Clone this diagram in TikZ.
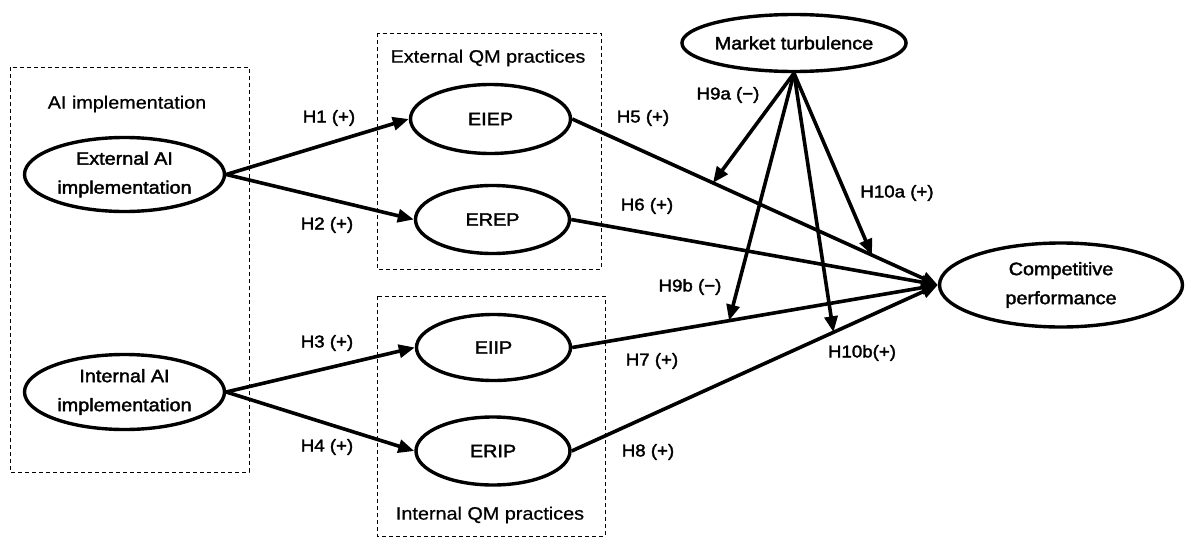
\documentclass[tikz,border=0pt]{standalone}
\usepackage{fontspec}
\setmainfont{Liberation Sans}[FakeStretch=1.1,FakeBold=0.6]
\newfontfamily\nodefont{Liberation Sans}[FakeStretch=1.1,FakeBold=2]
\usetikzlibrary{shapes.geometric,arrows.meta}

\tikzset{
  construct/.style={draw, ellipse, line width=3.4pt, inner sep=0pt, align=center,
    font=\nodefont\fontsize{18}{29}\selectfont},
  hyp/.style={-{Triangle[length=16pt,width=13pt]}, line width=3.6pt},
  group/.style={draw, line width=1pt, dash pattern=on 4pt off 3pt},
  grouptitle/.style={font=\fontsize{18}{22}\selectfont},
  hlabel/.style={font=\nodefont\fontsize{17}{20}\selectfont}
}

\begin{document}
\begin{tikzpicture}[x=1pt,y=-1pt]
\useasboundingbox (0,0) rectangle (1191,546);
% dashed groups
\draw[group] (10,67) rectangle (249,472);
\draw[group] (377,33) rectangle (601,269);
\draw[group] (377,296) rectangle (605,536);
\node[grouptitle] (aititle) at (127,104) {AI implementation};
\node[grouptitle] (extqmtitle) at (488,58) {External QM practices};
\node[grouptitle] (intqmtitle) at (490,515) {Internal QM practices};
% constructs
\node[construct, minimum width=200pt, minimum height=74pt] (extai) at (124.5,174.5) {External AI\\implementation};
\node[construct, minimum width=200pt, minimum height=75pt] (intai) at (124.5,392) {Internal AI\\implementation};
\node[construct, minimum width=160pt, minimum height=69pt] (eiep) at (490.5,119) {EIEP};
\node[construct, minimum width=154pt, minimum height=68pt] (erep) at (492.5,219.5) {EREP};
\node[construct, minimum width=154pt, minimum height=66pt] (eiip) at (493.5,347.5) {EIIP};
\node[construct, minimum width=154pt, minimum height=68pt] (erip) at (493,451) {ERIP};
\node[construct, minimum width=209pt, minimum height=57pt] (mt) at (794,43) {Market turbulence};
\node[construct, minimum width=243pt, minimum height=84pt] (cp) at (1061,285) {Competitive\\performance};
% hypotheses
\draw[hyp] (extai.east) -- (eiep.west);
\draw[hyp] (extai.east) -- (erep.west);
\draw[hyp] (intai.east) -- (eiip.west);
\draw[hyp] (intai.east) -- (erip.west);
\draw[hyp] (eiep.east) -- (cp.west) coordinate[pos=0.385] (m9a) coordinate[pos=0.82] (m10a);
\draw[hyp] (erep.east) -- (cp.west);
\draw[hyp] (eiip.east) -- (cp.west) coordinate[pos=0.429] (m9b);
\draw[hyp] (erip.east) -- (cp.west) coordinate[pos=0.715] (m10b);
\draw[hyp] (mt.south) -- (m9a);
\draw[hyp] (mt.south) -- (m10a);
\draw[hyp] (mt.south) -- (m9b);
\draw[hyp] (mt.south) -- (m10b);
% labels
\node[hlabel] (h1) at (329,118) {H1 (+)};
\node[hlabel] (h2) at (327,225) {H2 (+)};
\node[hlabel] (h3) at (327,343) {H3 (+)};
\node[hlabel] (h4) at (327,447) {H4 (+)};
\node[hlabel] (h5) at (643,118) {H5 (+)};
\node[hlabel] (h6) at (647,206) {H6 (+)};
\node[hlabel] (h7) at (652,361) {H7 (+)};
\node[hlabel] (h8) at (648,452) {H8 (+)};
\node[hlabel] (h9a) at (728,95) {H9a (−)};
\node[hlabel] (h9b) at (690,287) {H9b (−)};
\node[hlabel] (h10a) at (897,193) {H10a (+)};
\node[hlabel] (h10b) at (862,353) {H10b(+)};
\end{tikzpicture}
\end{document}
